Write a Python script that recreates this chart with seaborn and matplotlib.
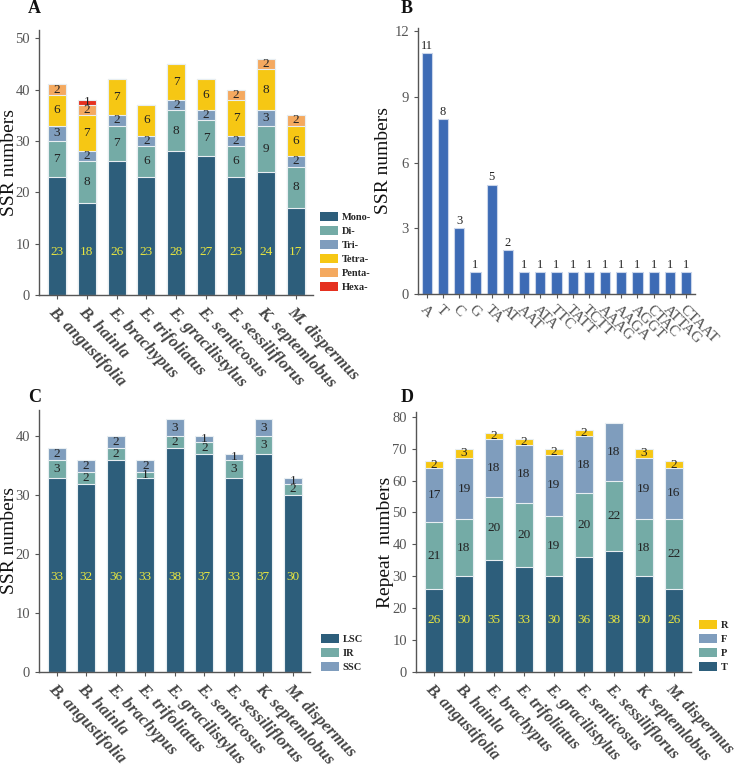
import numpy as np
import pandas as pd
import matplotlib
matplotlib.use("Agg")
import matplotlib.pyplot as plt
import matplotlib.patches as mpatches
import seaborn as sns

sns.set_style("white")
plt.rcParams['font.family'] = ['Liberation Serif', 'DejaVu Serif']

species = ['B. angustifolia', 'B. hainla', 'E. brachypus', 'E. trifoliatus',
           'E. gracilistylus', 'E. senticosus', 'E. sessiliflorus',
           'K. septemlobus', 'M. dispermus']

# panel A: SSR types
mono = [23, 18, 26, 23, 28, 27, 23, 24, 17]
di = [7, 8, 7, 6, 8, 7, 6, 9, 8]
tri = [3, 2, 2, 2, 2, 2, 2, 3, 2]
tetra = [6, 7, 7, 6, 7, 6, 7, 8, 6]
penta = [2, 2, 0, 0, 0, 0, 2, 2, 2]
hexa = [0, 1, 0, 0, 0, 0, 0, 0, 0]

# panel B: motifs
motifs = ['A', 'T', 'C', 'G', 'TA', 'AT', 'AAT', 'ATA', 'TTC', 'TATT', 'TCTT',
          'AAAG', 'AAGA', 'AGGT', 'CTAC', 'ATTAG', 'CTAAT']
motif_counts = [11, 8, 3, 1, 5, 2, 1, 1, 1, 1, 1, 1, 1, 1, 1, 1, 1]

# panel C: regions
lsc = [33, 32, 36, 33, 38, 37, 33, 37, 30]
ir = [3, 2, 2, 1, 2, 2, 3, 3, 2]
ssc = [2, 2, 2, 2, 3, 1, 1, 3, 1]

# panel D: repeats
rep_t = [26, 30, 35, 33, 30, 36, 38, 30, 26]
rep_p = [21, 18, 20, 20, 19, 20, 22, 18, 22]
rep_f = [17, 19, 18, 18, 19, 18, 18, 19, 16]
rep_r = [2, 3, 2, 2, 2, 2, 0, 3, 2]

C_DARK = '#2d5e7b'
C_TEAL = '#74aba6'
C_STEEL = '#7f9dbd'
C_YEL = '#f6c714'
C_ORA = '#f4a95f'
C_RED = '#e5301f'
C_BLUE = '#3d6bb5'
AX_COL = '#555555'
TXT_COL = '#555555'

fig = plt.figure(figsize=(7.38, 7.71), dpi=100)
W, H = 738, 771


def add_ax(x0, y0, x1, y1):
    ax = fig.add_axes([x0 / W, 1 - y1 / H, (x1 - x0) / W, (y1 - y0) / H])
    ax.set_facecolor('none')
    return ax


def style_ax(ax, ylabel, label_right_px, x0):
    sns.despine(ax=ax)
    for s in ['left', 'bottom']:
        ax.spines[s].set_color(AX_COL)
        ax.spines[s].set_linewidth(1.0)
    ax.tick_params(axis='both', colors=AX_COL, labelcolor=TXT_COL, length=3,
                   width=0.8, direction='out', labelsize=10.5, bottom=True, left=True)
    ax.set_xlabel('')
    ax.set_ylabel(ylabel, fontsize=14, color='#111111')
    width_px = ax.get_position().width * W
    ax.yaxis.set_label_coords((label_right_px - x0) / width_px, 0.5)


def stacked(ax, layers, colors, bottom_y, ylabel, ylim, yticks, lab_px, x0, xfs=12.2):
    cum = np.cumsum(np.array(layers), axis=0)
    # draw tallest cumulative first so the shorter ones cover it
    for i in range(len(layers) - 1, -1, -1):
        sns.barplot(x=species, y=cum[i], color=colors[i], ax=ax, width=0.6,
                    edgecolor='#e8eef2', linewidth=0.8, saturation=1)
    for j in range(len(species)):
        for i, vals in enumerate(layers):
            v = vals[j]
            if v == 0:
                continue
            if i == 0:
                ax.text(j, bottom_y, str(v), ha='center', va='center',
                        color='#e8e640', fontsize=9.5)
            else:
                mid = cum[i][j] - v / 2
                ax.text(j, mid, str(v), ha='center', va='center',
                        color='#222222', fontsize=9.5)
    ax.set_ylim(*ylim)
    ax.set_yticks(yticks)
    ax.set_xlim(-0.6, 8.58)
    style_ax(ax, ylabel, lab_px, x0)
    ax.set_xticks(range(len(species)))
    ax.set_xticklabels(species, rotation=-46, ha='left', va='top',
                       rotation_mode='anchor', fontsize=xfs, fontweight='bold',
                       fontstyle='italic', color='#444444')


def legend(ax, names, colors, anchor):
    handles = [mpatches.Patch(facecolor=c, edgecolor='none', label=n)
               for n, c in zip(names, colors)]
    ax.legend(handles=handles, loc='lower left', bbox_to_anchor=anchor,
              frameon=False, prop={'weight': 'bold', 'size': 7.5},
              handlelength=1.7, handleheight=0.95, labelspacing=0.38,
              handletextpad=0.4, borderaxespad=0, borderpad=0)


# Panel A
axA = add_ax(39, 30, 313, 295)
stacked(axA, [mono, di, tri, tetra, penta, hexa],
        [C_DARK, C_TEAL, C_STEEL, C_YEL, C_ORA, C_RED],
        8.4, 'SSR numbers', (0, 51.6), [0, 10, 20, 30, 40, 50], 18, 39)
legend(axA, ['Mono-', 'Di-', 'Tri-', 'Tetra-', 'Penta-', 'Hexa-'],
       [C_DARK, C_TEAL, C_STEEL, C_YEL, C_ORA, C_RED], (1.025, 0.01))

# Panel B
axB = add_ax(418, 28, 695, 294)
sns.barplot(x=motifs, y=motif_counts, color=C_BLUE, ax=axB, width=0.62,
            edgecolor='#c9d5ea', linewidth=0.8, saturation=1)
for j, v in enumerate(motif_counts):
    axB.text(j, v + 0.05, str(v), ha='center', va='bottom', fontsize=9,
             color='#222222')
axB.set_xlim(-0.55, 16.55)
axB.set_ylim(0, 12.15)
axB.set_yticks([0, 3, 6, 9, 12])
style_ax(axB, 'SSR numbers', 392, 418)
axB.set_xticks(range(len(motifs)))
axB.set_xticklabels(motifs, rotation=-45, ha='left', va='top',
                    rotation_mode='anchor', fontsize=11, color='#555555')

# Panel C
axC = add_ax(39, 410, 310, 672)
stacked(axC, [lsc, ir, ssc], [C_DARK, C_TEAL, C_STEEL], 16.2, 'SSR numbers',
        (0, 44.5), [0, 10, 20, 30, 40], 18, 39)
legend(axC, ['LSC', 'IR', 'SSC'], [C_DARK, C_TEAL, C_STEEL], (1.04, 0.0))

# Panel D
axD = add_ax(416, 412, 691, 672)
stacked(axD, [rep_t, rep_p, rep_f, rep_r], [C_DARK, C_TEAL, C_STEEL, C_YEL],
        16.3, 'Repeat  numbers', (0, 81.5),
        [0, 10, 20, 30, 40, 50, 60, 70, 80], 394, 416, xfs=11.6)
legend(axD, ['R', 'F', 'P', 'T'], [C_YEL, C_STEEL, C_TEAL, C_DARK], (1.03, 0.0))

# panel letters
for lab, x, y in [('A', 28, 13), ('B', 401, 13), ('C', 28, 402), ('D', 401, 402)]:
    fig.text(x / W, 1 - y / H, lab, fontsize=13, fontweight='bold',
             color='#111111', ha='left', va='baseline')

fig.savefig('out.png', dpi=100)
